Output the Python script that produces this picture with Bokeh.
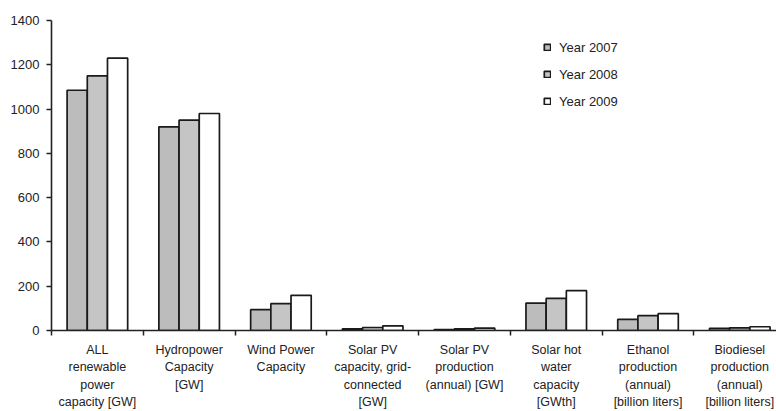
from bokeh.plotting import figure
from bokeh.models import Range1d, FixedTicker, ColumnDataSource, Legend, LegendItem
from bokeh.layouts import column
from bokeh.core.properties import value
from bokeh.embed import file_html
from bokeh.resources import INLINE

categories = [
    "ALL\nrenewable\npower\ncapacity [GW]",
    "Hydropower\nCapacity\n[GW]",
    "Wind Power\nCapacity",
    "Solar PV\ncapacity, grid-\nconnected\n[GW]",
    "Solar PV\nproduction\n(annual) [GW]",
    "Solar hot\nwater\ncapacity\n[GWth]",
    "Ethanol\nproduction\n(annual)\n[billion liters]",
    "Biodiesel\nproduction\n(annual)\n[billion liters]",
]
years = ["Year 2007", "Year 2008", "Year 2009"]
y2007 = [1085, 920, 94, 7.6, 3.7, 124, 50, 10]
y2008 = [1150, 950, 121, 13.5, 6.9, 145, 67, 12]
y2009 = [1230, 980, 159, 21, 11, 180, 76, 17]
y_ticks = [0, 200, 400, 600, 800, 1000, 1200, 1400]

series = [y2007, y2008, y2009]
fills = ["#bcbcbc", "#c5c5c5", "#ffffff"]
offsets = [-0.22, 0.0, 0.22]

n = len(categories)
centers = [i + 0.5 for i in range(n)]
bounds = list(range(n + 1))

xr = Range1d(0, 7.9)
p = figure(width=776, height=337, output_backend="svg", toolbar_location=None,
           x_range=xr, y_range=Range1d(0, 1400),
           min_border_left=51, min_border_top=20, min_border_right=0, min_border_bottom=7)
p.outline_line_color = None
p.grid.visible = False
p.background_fill_color = "white"

items = []
for vals, fc, off, name in zip(series, fills, offsets, years):
    src = ColumnDataSource(dict(x=[c + off for c in centers], top=vals))
    r = p.vbar(x="x", top="top", width=0.22, source=src, fill_color=fc,
               line_color="#1a1a1a", line_width=1.7)
    items.append(LegendItem(label=name, renderers=[r]))

legend = Legend(items=items, location=(492, 220))
legend.border_line_color = None
legend.background_fill_alpha = 0
legend.padding = 0
legend.margin = 0
legend.glyph_width = 8
legend.glyph_height = 8
legend.label_text_font = "Liberation Sans"
legend.label_text_font_size = "13px"
legend.label_text_color = "#222222"
legend.label_standoff = 8
legend.spacing = 9
legend.label_height = 18
p.add_layout(legend, "center")

# axes
p.yaxis.ticker = FixedTicker(ticks=y_ticks)
p.yaxis.minor_tick_line_color = None
p.yaxis.major_tick_out = 5
p.yaxis.major_tick_in = 0
p.yaxis.axis_line_width = 1.6
p.yaxis.major_tick_line_width = 1.5
p.yaxis.axis_line_color = "#222222"
p.yaxis.major_tick_line_color = "#222222"
p.yaxis.major_label_text_font = "Liberation Sans"
p.yaxis.major_label_text_font_size = "13px"
p.yaxis.major_label_text_color = "#222222"
p.yaxis.major_label_standoff = 7

p.xaxis.ticker = FixedTicker(ticks=centers, minor_ticks=bounds)
p.xaxis.major_label_overrides = {c: "" for c in centers}
p.xaxis.major_tick_out = 0
p.xaxis.major_tick_in = 0
p.xaxis.minor_tick_out = 5
p.xaxis.minor_tick_in = 0
p.xaxis.minor_tick_line_width = 1.5
p.xaxis.minor_tick_line_color = "#222222"
p.xaxis.axis_line_width = 1.6
p.xaxis.axis_line_color = "#222222"
p.xaxis.major_label_text_font_size = "0px"
p.xaxis.major_label_standoff = 0

# category label strip below the chart, sharing the x scale
p2 = figure(width=776, height=74, output_backend="svg", toolbar_location=None,
            x_range=xr, y_range=Range1d(74, 0),
            min_border_left=51, min_border_top=0, min_border_right=0, min_border_bottom=0)
p2.axis.visible = False
p2.grid.visible = False
p2.outline_line_color = None
lab_src = ColumnDataSource(dict(x=centers, y=[5] * n, text=categories))
p2.text(x="x", y="y", text="text", source=lab_src, text_align="center",
        text_baseline="top", text_font=value("Liberation Sans"),
        text_font_size="12.5px", text_color="#222222", text_line_height=1.25)

layout = column(p, p2, spacing=0)
open("out.html", "w").write(file_html(layout, INLINE))
